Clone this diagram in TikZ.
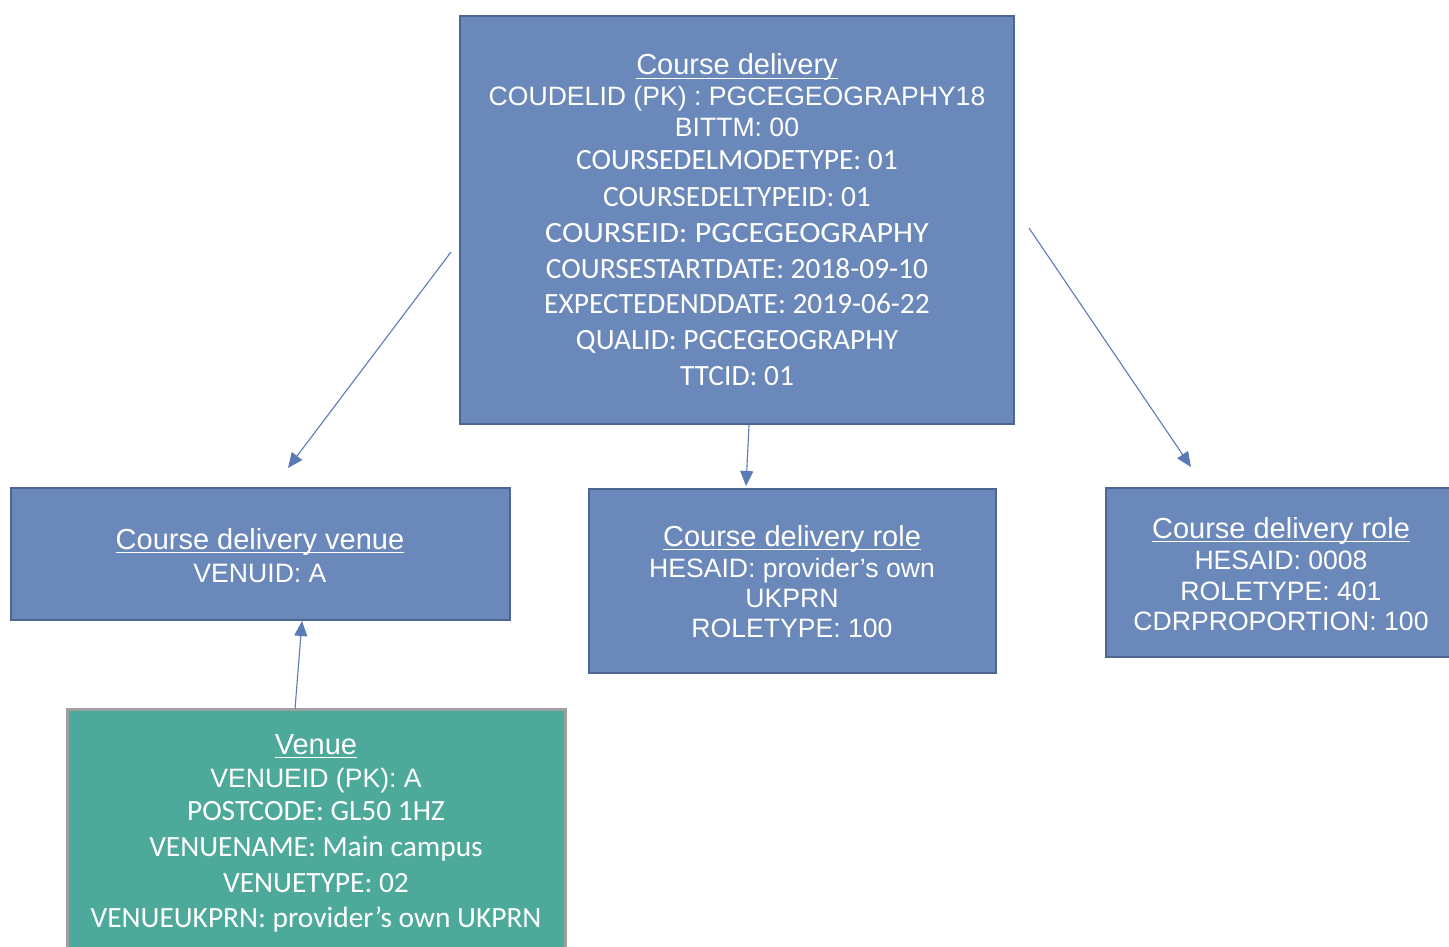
\documentclass[tikz,border=0pt]{standalone}
\usepackage{graphicx}
\usepackage{fontspec}
\newfontfamily\arialf{Liberation Sans}
\newfontfamily\calibf{Carlito}
\usetikzlibrary{arrows.meta}
\definecolor{boxblue}{HTML}{6A88B9}
\definecolor{boxblueedge}{HTML}{4C6591}
\definecolor{boxgreen}{HTML}{4DAA9A}
\definecolor{boxgreenedge}{HTML}{A0A0A0}
\definecolor{arrowblue}{HTML}{5A7BB5}
\tikzset{
  bluebox/.style={draw=boxblueedge, fill=boxblue, line width=2.5pt, rectangle, inner sep=0pt},
  greenbox/.style={draw=boxgreenedge, fill=boxgreen, line width=3pt, rectangle, inner sep=0pt},
  ttl/.style={anchor=base, inner sep=0pt, text=white, font=\arialf\fontsize{29}{33}\selectfont},
  atxt/.style={anchor=base, inner sep=0pt, text=white, font=\arialf\fontsize{26.6}{30}\selectfont},
  ctxt/.style={anchor=base, inner sep=0pt, text=white, font=\calibf\fontsize{29.4}{34}\selectfont},
  uline/.style={draw=white, line width=1.6pt},
  conn/.style={draw=arrowblue, line width=1.1pt, -{Triangle[length=15pt,width=13pt]}}
}
\begin{document}
\begin{tikzpicture}[x=1pt,y=-1pt]
\useasboundingbox (0,0) rectangle (1449,947);
% boxes
\node[bluebox, minimum width=554pt, minimum height=408pt] (main) at (737,220) {};
\node[bluebox, minimum width=499pt, minimum height=132pt] (cdv) at (260.5,554) {};
\node[bluebox, minimum width=407pt, minimum height=184pt] (role1) at (792.5,581) {};
\node[bluebox, minimum width=360pt, minimum height=169pt] (role2) at (1286,572.5) {};
\node[greenbox, minimum width=498pt, minimum height=252pt] (venue) at (316,835) {};

% main text
\node[ttl] (mt) at (737,75) {Course delivery};
\draw[uline] ([yshift=-3.5pt]mt.base west) -- ([yshift=-3.5pt]mt.base east);
\node[atxt] (m1) at (737,106) {COUDELID (PK) : PGCEGEOGRAPHY18};
\node[atxt] (m2) at (737,137) {BITTM: 00};
\node[ctxt] (m3) at (737,170) {COURSEDELMODETYPE: 01};
\node[ctxt] (m4) at (737,206) {COURSEDELTYPEID: 01};
\node[ctxt] (m5) at (737,242) {\scalebox{1.09}[1]{COURSEID: PGCEGEOGRAPHY}};
\node[ctxt] (m6) at (737,278) {COURSESTARTDATE: 2018-09-10};
\node[ctxt] (m7) at (737,313) {EXPECTEDENDDATE: 2019-06-22};
\node[ctxt] (m8) at (737,349) {QUALID: PGCEGEOGRAPHY};
\node[ctxt] (m9) at (737,385) {TTCID: 01};

% course delivery venue
\node[ttl] (ct) at (260,549) {Course delivery venue};
\draw[uline] ([yshift=-3.5pt]ct.base west) -- ([yshift=-3.5pt]ct.base east);
\node[atxt] (c1) at (260,582) {VENUID: A};

% role 1
\node[ttl] (r1t) at (792,546) {Course delivery role};
\draw[uline] ([yshift=-3.5pt]r1t.base west) -- ([yshift=-3.5pt]r1t.base east);
\node[atxt] (r11) at (792,577) {HESAID: provider’s own};
\node[atxt] (r12) at (792,607) {UKPRN};
\node[atxt] (r13) at (792,637) {ROLETYPE: 100};

% role 2
\node[ttl] (r2t) at (1281,538) {Course delivery role};
\draw[uline] ([yshift=-3.5pt]r2t.base west) -- ([yshift=-3.5pt]r2t.base east);
\node[atxt] (r21) at (1281,569) {HESAID: 0008};
\node[atxt] (r22) at (1281,600) {ROLETYPE: 401};
\node[atxt] (r23) at (1281,630) {CDRPROPORTION: 100};

% venue
\node[ttl] (vt) at (316,754) {Venue};
\draw[uline] ([yshift=-3.5pt]vt.base west) -- ([yshift=-3.5pt]vt.base east);
\node[atxt] (v1) at (316,787) {VENUEID (PK): A};
\node[ctxt] (v2) at (316,820) {POSTCODE: GL50 1HZ};
\node[ctxt] (v3) at (316,856) {VENUENAME: Main campus};
\node[ctxt] (v4) at (316,892) {VENUETYPE: 02};
\node[ctxt] (v5) at (316,927) {VENUEUKPRN: provider’s own UKPRN};

% connector end points
\coordinate (a1s) at (451,252);
\coordinate (a1e) at (288,468);
\coordinate (a2s) at (749,425);
\coordinate (a2e) at (746,486);
\coordinate (a3s) at (1029,228);
\coordinate (a3e) at (1191,467);
\coordinate (a4s) at (295,709);
\coordinate (a4e) at (302,621);
\draw[conn] (a1s) -- (a1e);
\draw[conn] (a2s) -- (a2e);
\draw[conn] (a3s) -- (a3e);
\draw[conn] (a4s) -- (a4e);
\end{tikzpicture}
\end{document}
